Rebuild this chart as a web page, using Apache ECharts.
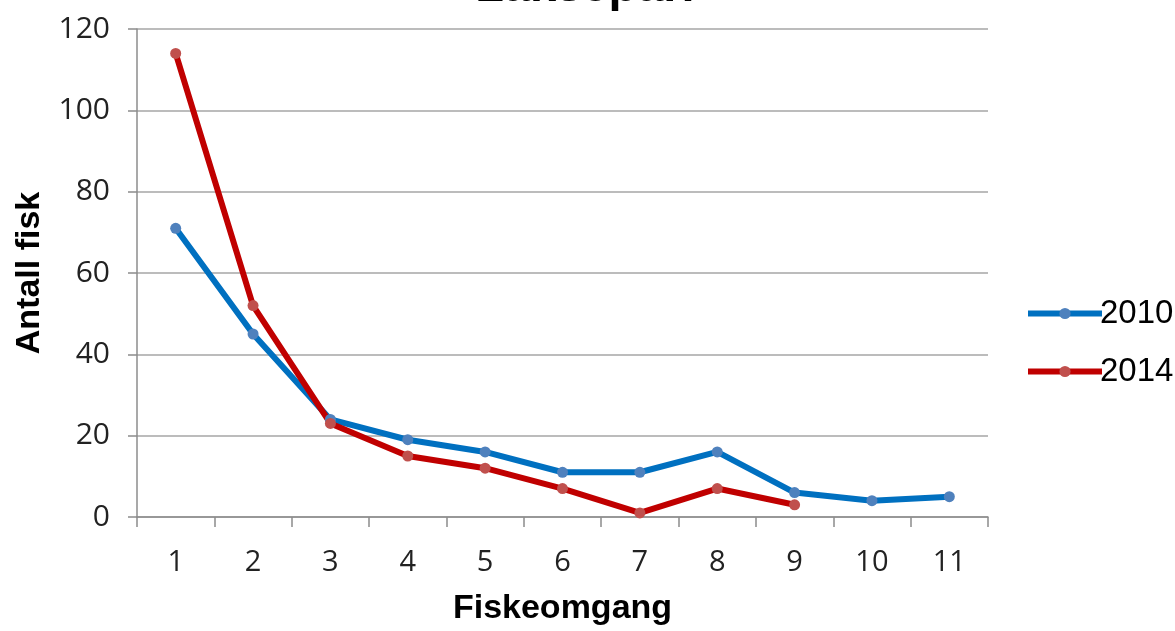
<!DOCTYPE html>
<html>
<head>
<meta charset="utf-8">
<script src="https://cdn.jsdelivr.net/npm/echarts@6/dist/echarts.min.js"></script>
<style>
html,body{margin:0;padding:0;background:#fff;}
#chart{width:1175px;height:631px;}
</style>
</head>
<body>
<div id="chart"></div>
<script>
var categories = ['1','2','3','4','5','6','7','8','9','10','11'];
var series2010 = [71, 45, 24, 19, 16, 11, 11, 16, 6, 4, 5];
var series2014 = [114, 52, 23, 15, 12, 7, 1, 7, 3];
var seriesNames = ['2010', '2014'];
var titleText = 'Lakseparr';
var yAxisTitle = 'Antall fisk';
var xAxisTitle = 'Fiskeomgang';

var chart = echarts.init(document.getElementById('chart'), null, {renderer: 'canvas'});
chart.setOption({
  animation: false,
  backgroundColor: '#ffffff',
  title: {
    text: titleText,
    left: 'center',
    top: -40,
    textStyle: {fontFamily: 'Liberation Sans', fontWeight: 'bold', fontSize: 47, color: '#000'}
  },
  legend: {
    orient: 'vertical',
    left: 1020,
    top: 292,
    itemWidth: 74,
    itemHeight: 14,
    itemGap: 25,
    data: seriesNames,
    lineStyle: {width: 6},
    textStyle: {fontFamily: 'Liberation Sans', fontSize: 33, color: '#000', padding: [0,0,0,-7]}
  },
  grid: {left: 137, right: 187, top: 29, bottom: 111},
  xAxis: {
    type: 'category',
    data: categories,
    boundaryGap: true,
    name: xAxisTitle,
    nameLocation: 'middle',
    nameGap: 75,
    nameTextStyle: {fontFamily: 'Liberation Sans', fontWeight: 'bold', fontSize: 34, color: '#000'},
    axisLine: {lineStyle: {color: '#8c8c8c', width: 1.5}},
    axisTick: {show: true, length: 10, lineStyle: {color: '#8c8c8c', width: 1.5}},
    axisLabel: {fontFamily: 'Open Sans', fontSize: 29, color: '#222', margin: 31}
  },
  yAxis: {
    type: 'value',
    min: 0,
    max: 120,
    interval: 20,
    name: yAxisTitle,
    nameLocation: 'middle',
    nameGap: 90,
    nameRotate: 90,
    nameTextStyle: {fontFamily: 'Liberation Sans', fontWeight: 'bold', fontSize: 34, color: '#000'},
    axisLine: {show: true, lineStyle: {color: '#8c8c8c', width: 1.5}},
    axisTick: {show: true, length: 9, lineStyle: {color: '#8c8c8c', width: 1.5}},
    axisLabel: {fontFamily: 'Open Sans', fontSize: 30, color: '#222', margin: 27},
    splitLine: {lineStyle: {color: '#a6a6a6', width: 1.5}}
  },
  series: [
    {
      name: seriesNames[0],
      type: 'line',
      data: series2010,
      symbol: 'circle',
      symbolSize: 11,
      lineStyle: {color: '#0070C0', width: 6},
      itemStyle: {color: '#4F81BD'},
      color: '#0070C0'
    },
    {
      name: seriesNames[1],
      type: 'line',
      data: series2014,
      symbol: 'circle',
      symbolSize: 11,
      lineStyle: {color: '#C00000', width: 6},
      itemStyle: {color: '#C0504D'},
      color: '#C00000'
    }
  ]
});
</script>
</body>
</html>
